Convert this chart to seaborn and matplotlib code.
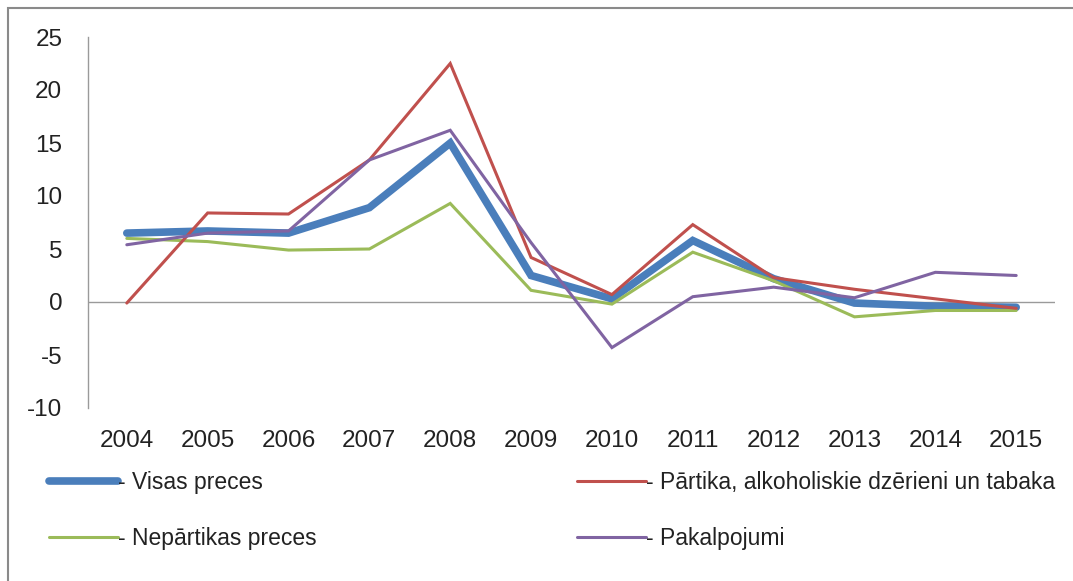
import matplotlib
matplotlib.use("Agg")
import matplotlib.pyplot as plt
import seaborn as sns
import pandas as pd
from matplotlib.lines import Line2D
from matplotlib.patches import Rectangle

years = [2004, 2005, 2006, 2007, 2008, 2009, 2010, 2011, 2012, 2013, 2014, 2015]
visas_preces = [6.5, 6.7, 6.5, 8.9, 15.0, 2.5, 0.3, 5.8, 2.2, -0.1, -0.4, -0.5]
partika = [-0.1, 8.4, 8.3, 13.4, 22.5, 4.2, 0.7, 7.3, 2.3, 1.2, 0.3, -0.6]
neparatikas = [6.0, 5.7, 4.9, 5.0, 9.3, 1.1, -0.2, 4.7, 2.0, -1.4, -0.8, -0.8]
pakalpojumi = [5.4, 6.5, 6.7, 13.4, 16.2, 5.6, -4.3, 0.5, 1.4, 0.4, 2.8, 2.5]

labels = ["- Visas preces", "- Pārtika, alkoholiskie dzērieni un tabaka",
          "- Nepārtikas preces", "- Pakalpojumi"]
series = [visas_preces, partika, neparatikas, pakalpojumi]
colors = ["#4A7EBB", "#C0504D", "#9BBB59", "#8064A2"]
widths = [5.5, 2.2, 2.2, 2.2]
yticks = [-10, -5, 0, 5, 10, 15, 20, 25]

sns.set_theme(style="white")
plt.rcParams['font.family'] = ['Liberation Sans', 'DejaVu Sans']

fig = plt.figure(figsize=(10.73, 5.81), dpi=100)
W, H = 1073, 581
ax = fig.add_axes([88 / W, 1 - 408 / H, (1055 - 88) / W, (408 - 37) / H])

order = [0, 2, 1, 3]
for i in order:
    df = pd.DataFrame({"year": years, "value": series[i]})
    sns.lineplot(data=df, x="year", y="value", ax=ax, color=colors[i],
                 linewidth=widths[i], solid_joinstyle="miter", legend=False)

ax.axhline(0, color="#9a9a9a", linewidth=1.0, zorder=0.5)
ax.set_xlim(2003.52, 2015.48)
ax.set_ylim(-10, 25)
ax.set_yticks(yticks)
ax.set_yticklabels([str(v) for v in yticks])
ax.set_xticks(years)
ax.set_xticklabels([str(y) for y in years])
ax.set_xlabel("")
ax.set_ylabel("")
for s in ["top", "right", "bottom"]:
    ax.spines[s].set_visible(False)
ax.spines["left"].set_color("#9a9a9a")
ax.spines["left"].set_linewidth(1.0)
ax.tick_params(axis="both", length=0, labelsize=17.5, colors="#222222")
ax.tick_params(axis="y", pad=18.5)
ax.tick_params(axis="x", pad=16)

def handle(i):
    return Line2D([0], [0], color=colors[i], linewidth=widths[i],
                  solid_capstyle="round")

leg_kw = dict(loc="upper left", frameon=False, fontsize=16.5, handlelength=3.0,
              handletextpad=0.0, labelspacing=1.45, borderaxespad=0)
leg1 = fig.legend([handle(0), handle(2)], [labels[0], labels[2]],
                  bbox_to_anchor=(40 / W, 1 - 462 / H), **leg_kw)
leg2 = fig.legend([handle(1), handle(3)], [labels[1], labels[3]],
                  bbox_to_anchor=(568 / W, 1 - 462 / H), **leg_kw)
for lg in (leg1, leg2):
    for t in lg.get_texts():
        t.set_color("#222222")

fig.patches.append(Rectangle((8 / W, -0.05), 1.2, 1 - 8 / H + 0.05, transform=fig.transFigure,
                             fill=False, edgecolor="#8a8a8a", linewidth=1.5))

fig.savefig("out.png", dpi=100)
